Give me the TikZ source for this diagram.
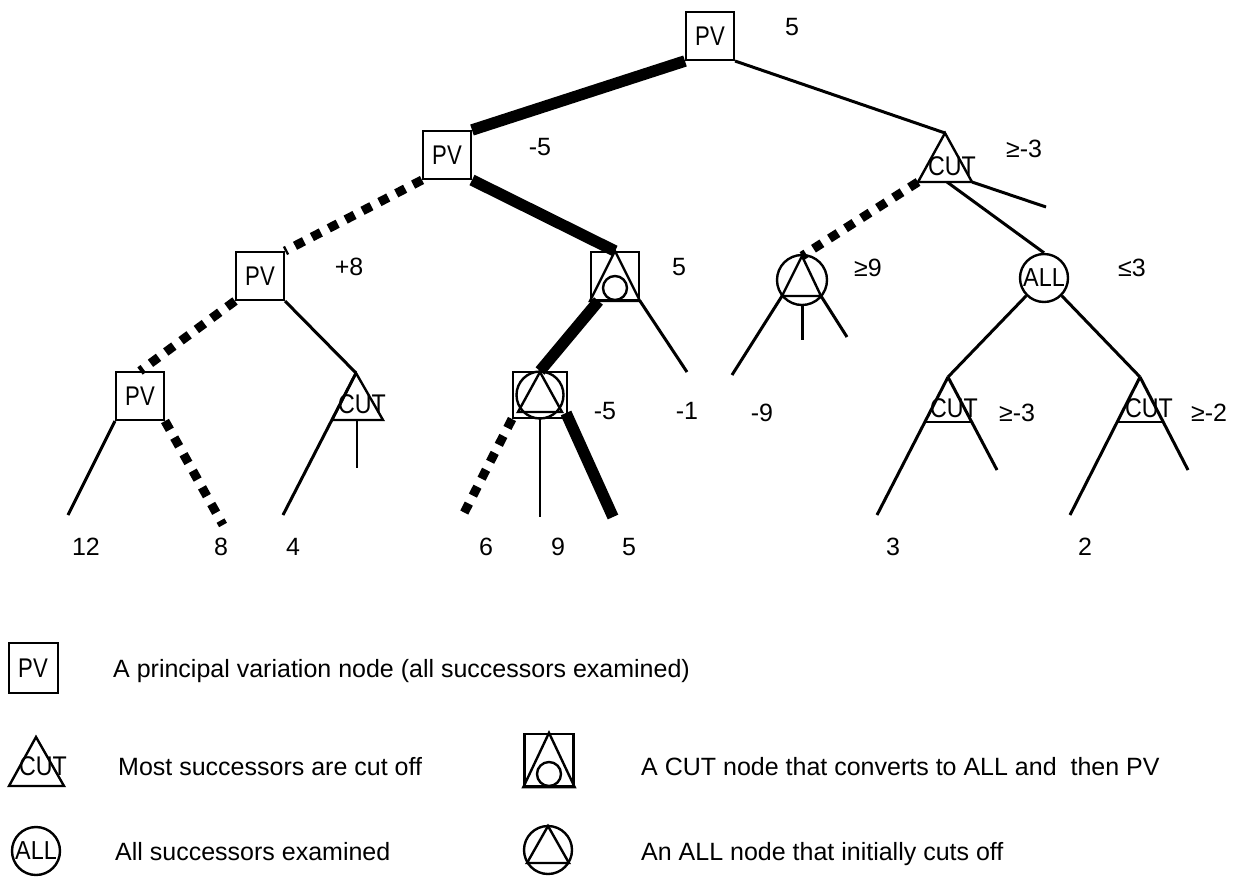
\documentclass[tikz,border=0pt]{standalone}
\usepackage{fontspec}
\setmainfont{Liberation Sans}
\usetikzlibrary{calc}
\newcommand{\cutt}{\scalebox{0.86}[1]{CUT}}
\newcommand{\pvt}{\scalebox{0.82}[1]{PV}}
\tikzset{
  lbl/.style={font=\fontsize{25}{28}\selectfont, inner sep=0pt, anchor=base},
  cutlbl/.style={font=\fontsize{27}{28}\selectfont, inner sep=0pt, anchor=base},
  pvbox/.style={draw, line width=2pt, minimum width=48pt, minimum height=48pt, inner sep=0pt, font=\fontsize{27}{28}\selectfont},
  shp/.style={line width=2.4pt, line join=miter},
  edge/.style={line width=3pt},
  thickedge/.style={line width=11.5pt},
  dotedge/.style={line width=9pt, dash pattern=on 10pt off 9pt},
  thinedge/.style={line width=2pt},
  ring/.style={draw, circle, line width=2.4pt, inner sep=0pt, font=\fontsize{26}{28}\selectfont},
}
\begin{document}
\begin{tikzpicture}[x=1pt,y=-1pt]
\fill[white] (0,0) rectangle (1238,876);
\useasboundingbox (0,0) rectangle (1238,876);

% ---------- level 0
\node[pvbox] (root) at (710,36) {\pvt};
\node[lbl] (v0) at (792,35) {5};

% ---------- level 1
\node[pvbox] (pv1) at (447,155) {\pvt};
\node[lbl] (v1) at (540,155) {-5};
\coordinate (cutA) at (945,133);
\coordinate (cutAl) at (918,182);
\coordinate (cutAr) at (972,182);
\coordinate (cutAm) at (947,182);
\coordinate (fr1) at (1046,207);
\draw[shp] (cutA) -- (cutAl) -- (cutAr) -- cycle;
\node[cutlbl] (cutAt) at (952,175) {\cutt};
\node[lbl] (v2) at (1024,157) {≥-3};

% ---------- level 2
\node[pvbox] (pv2) at (260,276) {\pvt};
\node[lbl] (v3) at (349,275) {+8};
\node[pvbox] (m2) at (615,276) {};
\draw[shp] (m2.north) -- (m2.south west) -- (m2.south east) -- cycle;
\node[ring, minimum size=24pt] (m2c) at (615,288) {};
\node[lbl] (v4) at (679,275) {5};
\node[ring, minimum size=50pt] (ac) at (802,280) {};
\coordinate (acT) at (802,256);
\coordinate (acL) at (782,296);
\coordinate (acR) at (821,296);
\draw[shp] (acT) -- (acL) -- (acR) -- cycle;
\node[lbl] (v5) at (868,276) {≥9};
\node[ring, minimum size=48pt] (all) at (1044,278) {\scalebox{0.9}[1]{ALL}};
\node[lbl] (v6) at (1132,276) {≤3};

% ---------- level 3
\node[pvbox] (pv3) at (140,396) {\pvt};
\coordinate (clT) at (356,373);
\coordinate (clL) at (332,420);
\coordinate (clR) at (383,420);
\coordinate (clM) at (357,420);
\draw[shp] (clT) -- (clL) -- (clR) -- cycle;
\node[cutlbl] (clt) at (362,413) {\cutt};

\node[draw, line width=2pt, minimum width=54pt, minimum height=46pt, inner sep=0pt] (m3) at (540,395) {};
\node[ring, minimum size=47pt] (m3c) at (540,395) {};
\coordinate (m3T) at (540,372);
\coordinate (m3L) at (518,412);
\coordinate (m3R) at (562,412);
\draw[shp] (m3T) -- (m3L) -- (m3R) -- cycle;
\node[lbl] (v7) at (605,419) {-5};
\node[lbl] (v8) at (687,419) {-1};
\node[lbl] (v9) at (762,421) {-9};

\coordinate (r1T) at (948,377);
\coordinate (r1L) at (925,422);
\coordinate (r1R) at (972,422);
\draw[shp] (r1L) -- (r1R);
\node[cutlbl] (r1t) at (954,417) {\cutt};
\node[lbl] (v10) at (1017,421) {≥-3};
\coordinate (r2T) at (1140,377);
\coordinate (r2L) at (1117,422);
\coordinate (r2R) at (1163,422);
\draw[shp] (r2L) -- (r2R);
\node[cutlbl] (r2t) at (1149,417) {\cutt};
\node[lbl] (v11) at (1209,421) {≥-2};

% ---------- free ends
\coordinate (lf1) at (68,515);
\coordinate (lf2) at (223,525);
\coordinate (lf3) at (283,515);
\coordinate (fr3) at (357,468);
\coordinate (lf5) at (463,515);
\coordinate (lf6) at (540,517);
\coordinate (lf7) at (613,517);
\coordinate (fr2) at (687,372);
\coordinate (ac1) at (732,375);
\coordinate (ac2) at (802,340);
\coordinate (ac3) at (847,337);
\coordinate (lf8) at (877,515);
\coordinate (fr6) at (997,470);
\coordinate (lf9) at (1070,515);
\coordinate (fr7) at (1188,470);

% ---------- connectors
\draw[thickedge] (root.south west) -- (pv1.north east);
\draw[edge] (root.south east) -- (cutA);
\draw[edge] (cutAr) -- (fr1);
\draw[dotedge] (cutAl) -- (acT);
\draw[edge] (cutAm) -- (all.north);

\draw[dotedge] (pv1.south west) -- (pv2.north east);
\draw[thickedge] (pv1.south east) -- (m2.north);

\draw[dotedge] (pv2.south west) -- (pv3.north);
\draw[edge] (pv2.south east) -- (clT);

\draw[thickedge] ($(m2.south west)!0.17!(m2.south east)$) -- (m3.north);
\draw[edge] (m2.south east) -- (fr2);

\draw[edge] (pv3.south west) -- (lf1);
\draw[dotedge] (pv3.south east) -- (lf2);
\draw[edge] (clT) -- (lf3);
\draw[thinedge] (clM) -- (fr3);

\draw[dotedge] (m3.south west) -- (lf5);
\draw[thinedge] (m3.south) -- (lf6);
\draw[thickedge] ($(m3.south east)+(-2,-6)$) -- (lf7);

\draw[edge] (acL) -- (ac1);
\draw[edge] (ac.south) -- (ac2);
\draw[edge] (acR) -- (ac3);

\draw[edge] (all.south west) -- (r1T);
\draw[edge] (all.south east) -- (r2T);
\draw[edge] (r1T) -- (lf8);
\draw[edge] (r1T) -- (fr6);
\draw[edge] (r2T) -- (lf9);
\draw[edge] (r2T) -- (fr7);

% ---------- leaf values
\node[lbl] (n12) at (86,555) {12};
\node[lbl] (n8) at (221,555) {8};
\node[lbl] (n4) at (293,555) {4};
\node[lbl] (n6) at (486,555) {6};
\node[lbl] (n9) at (558,555) {9};
\node[lbl] (n5) at (629,555) {5};
\node[lbl] (n3) at (893,555) {3};
\node[lbl] (n2) at (1085,555) {2};

% ---------- legend
\node[pvbox, minimum width=49pt, minimum height=50pt] (lgpv) at (33,668) {\pvt};
\node[lbl, anchor=base west] (lgt1) at (113,677) {A principal variation node (all successors examined)};

\coordinate (lgcT) at (36,737);
\coordinate (lgcL) at (9,786);
\coordinate (lgcR) at (64,786);
\draw[shp] (lgcT) -- (lgcL) -- (lgcR) -- cycle;
\node[cutlbl] (lgct) at (43,775) {\cutt};
\node[lbl, anchor=base west] (lgt2) at (118,775) {Most successors are cut off};

\node[ring, minimum size=48pt] (lgall) at (36,851) {\scalebox{0.9}[1]{ALL}};
\node[lbl, anchor=base west] (lgt3) at (115,860) {All successors examined};

\node[draw, line width=2.4pt, minimum width=49pt, minimum height=52pt, inner sep=0pt] (lgm) at (549,760) {};
\draw[shp] (lgm.north) -- (lgm.south west) -- (lgm.south east) -- cycle;
\node[ring, minimum size=24pt] (lgmc) at (549,774) {};
\node[lbl, anchor=base west] (lgt4) at (641,775) {A CUT node that converts to ALL and~ then PV};

\node[ring, minimum size=48pt] (lgac) at (548,850) {};
\coordinate (lgaT) at (548,826);
\coordinate (lgaL) at (527,863);
\coordinate (lgaR) at (569,863);
\draw[shp] (lgaT) -- (lgaL) -- (lgaR) -- cycle;
\node[lbl, anchor=base west] (lgt5) at (641,860) {An ALL node that initially cuts off};
\end{tikzpicture}
\end{document}
